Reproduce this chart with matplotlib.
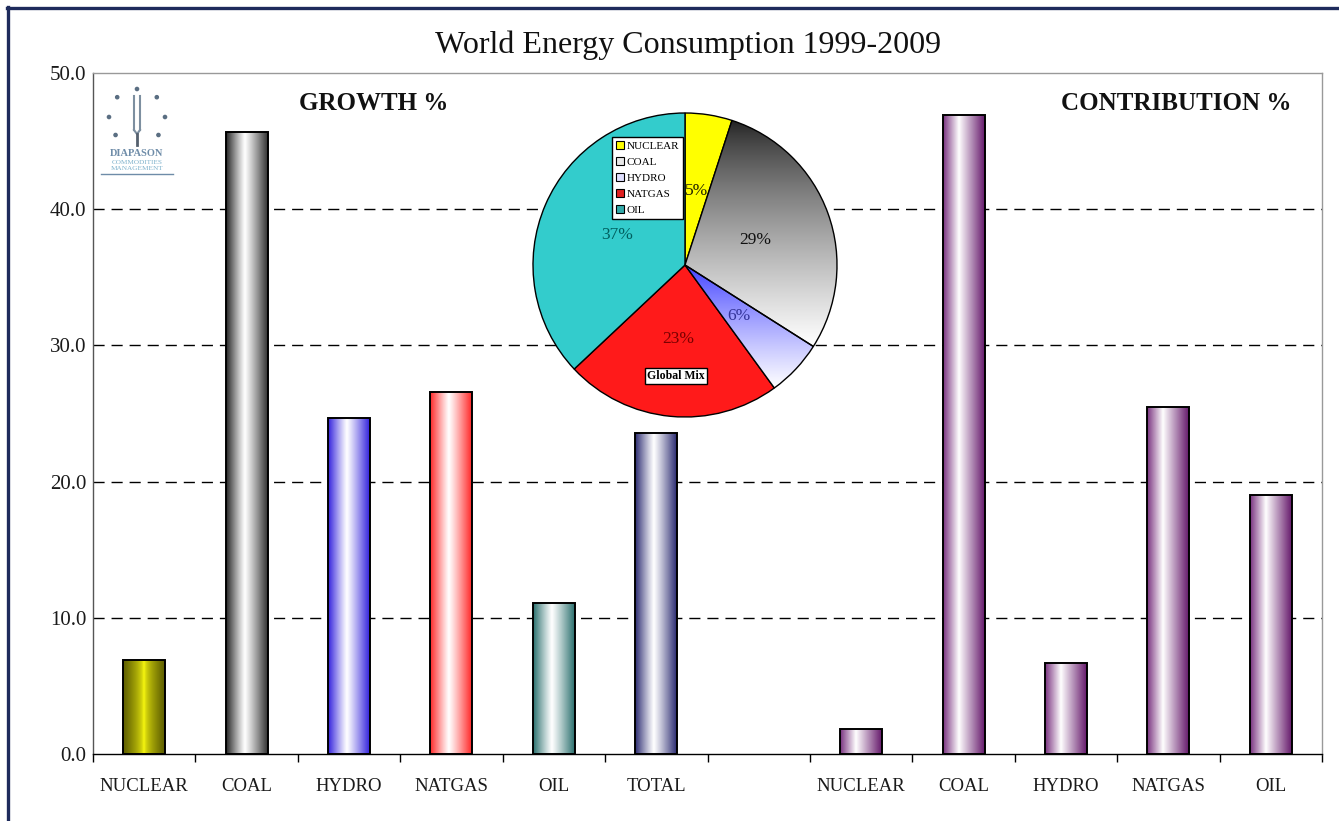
import numpy as np
import matplotlib
matplotlib.use("Agg")
import matplotlib.pyplot as plt
from matplotlib.colors import to_rgb
from matplotlib.lines import Line2D
from matplotlib.patches import Rectangle, Circle
from matplotlib.ticker import FormatStrFormatter

# ---- data -------------------------------------------------------------
growth_labels = ["NUCLEAR", "COAL", "HYDRO", "NATGAS", "OIL", "TOTAL"]
growth_values = [6.9, 45.7, 24.7, 26.6, 11.1, 23.6]

contrib_labels = ["NUCLEAR", "COAL", "HYDRO", "NATGAS", "OIL"]
contrib_values = [1.8, 46.9, 6.7, 25.5, 19.0]

mix_labels = ["NUCLEAR", "COAL", "HYDRO", "NATGAS", "OIL"]
mix_shares = [5, 29, 6, 23, 37]

y_ticks = [0, 10, 20, 30, 40, 50]

# ---- styling ----------------------------------------------------------
SERIF = ["Liberation Serif", "DejaVu Serif"]
plt.rcParams["font.family"] = SERIF

W, H = 1339, 821
fig = plt.figure(figsize=(W / 100, H / 100), dpi=100, facecolor="white")


def fx(px):
    return px / W


def fy(py):
    return 1 - py / H


def ramp(edge_l, center, edge_r, peak=0.45, n=96, power=0.9):
    t = np.linspace(0, 1, n)
    w = np.where(t < peak, (peak - t) / peak, (t - peak) / (1 - peak)) ** power
    c = np.array(to_rgb(center))
    edge = np.where((t < peak)[:, None], np.array(to_rgb(edge_l)), np.array(to_rgb(edge_r)))
    cols = c * (1 - w[:, None]) + edge * w[:, None]
    return cols[None, :, :]


def vramp(top, bottom, n=96, power=1.0):
    t = np.linspace(0, 1, n) ** power
    a, b = np.array(to_rgb(top)), np.array(to_rgb(bottom))
    cols = a * (1 - t[:, None]) + b * t[:, None]
    return cols[:, None, :]


# ---- main bar axes ----------------------------------------------------
ax = fig.add_axes([fx(93), fy(754), fx(1322) - fx(93), fy(73) - fy(754)])

tick_labels = growth_labels + [""] + contrib_labels
xpos = np.arange(len(tick_labels))
g_x = xpos[: len(growth_labels)]
c_x = xpos[len(growth_labels) + 1:]

bar_w = 0.41
bars_g = ax.bar(g_x, growth_values, width=bar_w, facecolor="none",
                edgecolor="black", linewidth=1.4, zorder=4)
bars_c = ax.bar(c_x, contrib_values, width=bar_w, facecolor="none",
                edgecolor="black", linewidth=1.4, zorder=4)

growth_shades = [
    ramp("#5E5E00", "#FFFF10", "#5E5E00", peak=0.5, power=0.6),
    ramp("#262626", "#FFFFFF", "#333333", peak=0.45, power=1.1),
    ramp("#3322DD", "#FFFFFF", "#3322DD", peak=0.45, power=1.1),
    ramp("#FF2828", "#FFFFFF", "#FF2828", peak=0.45, power=1.1),
    ramp("#2A706E", "#FFFFFF", "#2A706E", peak=0.45, power=1.1),
    ramp("#2C2C72", "#FFFFFF", "#2C2C72", peak=0.45, power=1.1),
]
contrib_shade = ramp("#7A3380", "#FFFFFF", "#661A6C", peak=0.38, power=1.0)

for bar, img in zip(bars_g, growth_shades):
    x, w, h = bar.get_x(), bar.get_width(), bar.get_height()
    im = ax.imshow(img, extent=(x, x + w, 0, h), aspect="auto",
                   interpolation="bilinear", zorder=3)
    im.set_clip_path(bar)
for bar in bars_c:
    x, w, h = bar.get_x(), bar.get_width(), bar.get_height()
    im = ax.imshow(contrib_shade, extent=(x, x + w, 0, h), aspect="auto",
                   interpolation="bilinear", zorder=3)
    im.set_clip_path(bar)

ax.set_xlim(-0.5, len(tick_labels) - 0.5)
ax.set_ylim(0, 50)

for v in y_ticks[1:-1]:
    ax.axhline(v, color="black", linewidth=1.0, linestyle=(0, (8, 5)), zorder=1)

ax.set_xticks(xpos)
ax.set_xticklabels(tick_labels, fontsize=13.5, color="#1A1A1A")
ax.set_xticks(np.arange(-0.5, len(tick_labels), 1.0), minor=True)
ax.tick_params(axis="x", which="major", length=0, pad=17)
ax.tick_params(axis="x", which="minor", length=6, width=1.0, direction="out")
ax.set_yticks(y_ticks)
ax.yaxis.set_major_formatter(FormatStrFormatter("%.1f"))
ax.tick_params(axis="y", length=0, pad=5, labelsize=15, labelcolor="#1A1A1A")

ax.spines["bottom"].set_color("black")
ax.spines["left"].set_color("#555555")
for s in ("top", "right"):
    ax.spines[s].set_color("#999999")
for s in ax.spines.values():
    s.set_linewidth(1.0)

ax.text((374 - 93) / 1229, (754 - 103) / 681, "GROWTH %", transform=ax.transAxes,
        ha="center", va="center", fontsize=18, fontweight="bold", color="#111111")
ax.text((1176 - 93) / 1229, (754 - 103) / 681, "CONTRIBUTION %", transform=ax.transAxes,
        ha="center", va="center", fontsize=18, fontweight="bold", color="#111111")

fig.text(fx(688), fy(45), "World Energy Consumption 1999-2009", ha="center",
         va="center", fontsize=23, color="#111111")

# ---- pie inset --------------------------------------------------------
R = 152
pax = fig.add_axes([fx(685 - R), fy(265 + R), fx(2 * R), 2 * R / H])
mix_base = ["#FFFF00", "#888888", "#9999FF", "#FF1A1A", "#33CCCC"]
wedges, _, autotexts = pax.pie(
    mix_shares, colors=mix_base, startangle=90, counterclock=False,
    autopct=lambda p: f"{p:.0f}%", pctdistance=0.49,
    wedgeprops=dict(edgecolor="black", linewidth=1.0),
    textprops=dict(fontsize=12.5))

pct_colors = ["#222200", "#111111", "#333399", "#7A0000", "#005F5F"]
for t, c in zip(autotexts, pct_colors):
    t.set_color(c)
    t.set_zorder(6)

grad = {1: vramp("#1E1E1E", "#FFFFFF", power=0.75),
        2: vramp("#3A3AFF", "#FFFFFF", power=0.8)}
for i, img in grad.items():
    w = wedges[i]
    bb = w.get_path().get_extents()
    im = pax.imshow(img, extent=(bb.x0, bb.x1, bb.y0, bb.y1), aspect="auto",
                    interpolation="bilinear", zorder=w.get_zorder() + 0.1)
    im.set_clip_path(w)
    w.set_facecolor("none")
    w.set_zorder(w.get_zorder() + 0.2)

pax.set_xlim(-1.0, 1.0)
pax.set_ylim(-1.0, 1.0)
pax.set_aspect("equal")
pax.axis("off")

legend_colors = ["#FFFF00", "#E8E8E8", "#E0E0FF", "#E02020", "#33AAAA"]
handles = [Rectangle((0, 0), 1, 1, facecolor=c, edgecolor="black", linewidth=0.8)
           for c in legend_colors]
leg = pax.legend(handles, mix_labels, loc="upper left",
                 bbox_to_anchor=(fx(612), fy(137)), bbox_transform=fig.transFigure,
                 fontsize=8, frameon=True, fancybox=False, handlelength=0.7,
                 handleheight=0.7, handletextpad=0.2, labelspacing=0.55,
                 borderpad=0.4, borderaxespad=0, framealpha=1.0)
leg.get_frame().set_edgecolor("black")
leg.get_frame().set_facecolor("white")
leg.get_frame().set_linewidth(1.0)
leg.set_zorder(10)

fig.text(fx(676), fy(376), "Global Mix", ha="center", va="center", fontsize=8.5,
         fontweight="bold", color="black", zorder=10,
         bbox=dict(boxstyle="square,pad=0.2", facecolor="white", edgecolor="black",
                   linewidth=1.0))

# ---- logo -------------------------------------------------------------
lax = fig.add_axes([fx(95), fy(180), fx(85), 102 / H])
lax.set_xlim(95, 180)
lax.set_ylim(180, 78)
lax.axis("off")
logo_c = "#6E8CA8"
cx, cy, rr = 137, 117, 28
for ang in (90, 45, 135, 0, 180, -40, -140):
    a = np.deg2rad(ang)
    lax.add_patch(Circle((cx + rr * np.cos(a), cy - rr * np.sin(a)), 1.6,
                         color="#5A6E82", zorder=3))
lax.plot([134, 134], [96, 130], color="#7D8FA0", lw=1.5)
lax.plot([140, 140], [96, 130], color="#7D8FA0", lw=1.5)
lax.plot([134, 137, 140], [130, 134, 130], color="#7D8FA0", lw=1.5)
lax.plot([137, 137], [134, 145], color="#55606E", lw=2.0)
lax.text(137, 154, "DIAPASON", ha="center", va="center", fontsize=7.5,
         color=logo_c, fontweight="bold")
lax.text(137, 162, "COMMODITIES", ha="center", va="center", fontsize=5.2,
         color="#7FB2CC")
lax.text(137, 169, "MANAGEMENT", ha="center", va="center", fontsize=5.2,
         color="#7FB2CC")
lax.plot([101, 173], [174, 174], color=logo_c, lw=1.0)

# ---- page border ------------------------------------------------------
fig.add_artist(Line2D([fx(7), 1], [fy(8.5), fy(8.5)], color="#1E2B5C",
                      linewidth=2.4, transform=fig.transFigure))
fig.add_artist(Line2D([fx(8), fx(8)], [0, fy(7)], color="#1E2B5C",
                      linewidth=2.4, transform=fig.transFigure))

fig.savefig("out.png", dpi=100, facecolor="white")
